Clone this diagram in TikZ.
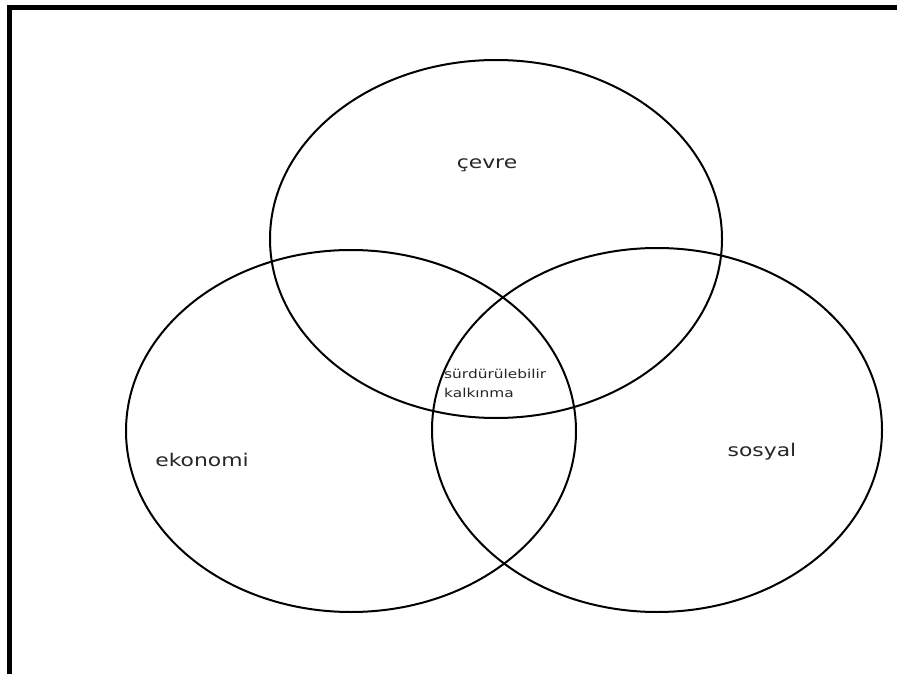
\documentclass[tikz,border=0pt]{standalone}
\usepackage{fontspec}
\setmainfont{DejaVu Sans}
\usepackage{graphicx}
\begin{document}
\begin{tikzpicture}[x=1pt,y=-1pt,
  venn/.style={draw=black,line width=2pt},
  lbl/.style={inner sep=0pt,text=black!85,font=\fontsize{17.5}{20}\selectfont},
  small/.style={inner sep=0pt,text=black!85,font=\fontsize{12.3}{19}\selectfont,align=left}]
\useasboundingbox (0,0) rectangle (897,674);
\fill[white] (0,0) rectangle (897,674);
\draw[line width=4.8pt,black] (9.5,674) -- (9.5,7.5) -- (897,7.5);
\draw[venn] (496,239) ellipse [x radius=226, y radius=179];
\draw[venn] (351,431) ellipse [x radius=225, y radius=181];
\draw[venn] (657,430) ellipse [x radius=225, y radius=182];
\node[lbl,anchor=base] (cevre) at (487,168) {\scalebox{1.25}[1]{çevre}};
\node[lbl,anchor=base] (ekonomi) at (202,466) {\scalebox{1.25}[1]{ekonomi}};
\node[lbl,anchor=base] (sosyal) at (762,456) {\scalebox{1.25}[1]{sosyal}};
\node[small,anchor=base west] (sk1) at (444,378) {\scalebox{1.25}[1]{sürdürülebilir}};
\node[small,anchor=base west] (sk2) at (444,397) {\scalebox{1.25}[1]{kalkınma}};
\end{tikzpicture}
\end{document}
